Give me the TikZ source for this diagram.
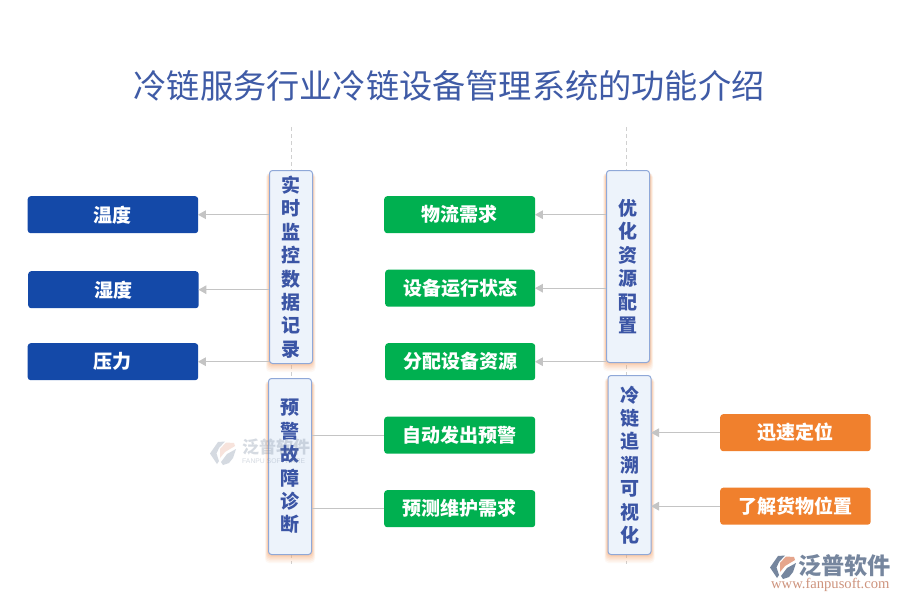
\documentclass[tikz,border=0pt]{standalone}
\usepackage{fontspec}
\setmainfont{Noto Sans CJK SC}
\newfontfamily\wwwfont{Liberation Serif}
\newfontfamily\latinsans{Liberation Sans}
\usetikzlibrary{arrows.meta}
\definecolor{bluebox}{HTML}{1449A8}
\definecolor{greenbox}{HTML}{00B050}
\definecolor{orangebox}{HTML}{F0802D}
\definecolor{colfill}{HTML}{EDF3FB}
\definecolor{coledge}{HTML}{8FA8D8}
\definecolor{coltext}{HTML}{3B55A5}
\definecolor{titletext}{HTML}{3F5BA6}
\definecolor{linegray}{HTML}{C4C4C4}
\definecolor{glow}{HTML}{F9A56A}
\definecolor{logogray}{HTML}{76869E}
\definecolor{logosalmon}{HTML}{E5A58C}
\tikzset{
  x=1pt,y=-1pt,
  leaf/.style={rounded corners=3pt,draw=none,text=white,font=\fontsize{19}{19}\selectfont\bfseries,inner sep=0pt,anchor=north west},
  bluebox/.style={leaf,fill=bluebox,minimum width=170.5pt,minimum height=37pt},
  greenbox/.style={leaf,fill=greenbox,minimum width=151pt,minimum height=37pt},
  orangebox/.style={leaf,fill=orangebox,minimum width=150.5pt,minimum height=37pt},
  column/.style={rounded corners=3pt,draw=coledge,line width=1pt,fill=colfill,text=coltext,
    font=\fontsize{19}{23.4}\selectfont\bfseries,align=center,inner sep=0pt,anchor=north west,text width=43pt,minimum width=43pt},
  arr/.style={draw=linegray,line width=1.4pt,-{Triangle[length=8pt,width=8.5pt]},shorten >=-0.5pt},
  plainln/.style={draw=linegray,line width=1.1pt},
  guide/.style={draw=linegray!80,line width=0.7pt,dash pattern=on 4pt off 3pt},
}
\newcommand{\glowbox}[4]{%
  \foreach \g/\o in {6/0.07,5/0.09,4/0.11,3/0.14,2/0.17,1/0.20}{
    \fill[glow,opacity=\o,rounded corners=4pt] (#1-\g*0.5,#2+3) rectangle (#3+\g*0.5,#4+\g*1.5);
  }}
\newcommand{\logomark}[2]{% x, y
  \begin{scope}[shift={(#1,#2)}]
  \fill[logogray] (0,12.5) -- (8,1) -- (15,0.5) -- (9,7) -- (6.5,12.5) -- (9,20) -- (7,23) -- cycle;
  \fill[logosalmon] (10,8) -- (16,1.5) -- (24,2) -- (25,5) -- (15,11) -- (10,17) -- cycle;
  \fill[logogray] (11,21) -- (17,13) -- (26,8) -- (23,17) -- (19,22) -- (13,24) -- cycle;
  \end{scope}}
\begin{document}
\begin{tikzpicture}
\useasboundingbox (0,0) rectangle (900,600);
\fill[white] (0,0) rectangle (900,600);

\node[text=titletext,font=\fontsize{33.2}{33}\selectfont,inner sep=0pt] (title) at (449,86) {冷链服务行业冷链设备管理系统的功能介绍};

% guide lines
\coordinate (gla) at (291,127);
\coordinate (glb) at (291,564);
\coordinate (gra) at (626.5,127);
\coordinate (grb) at (626.5,564);
\draw[guide] (gla) -- (glb);
\draw[guide] (gra) -- (grb);

% column glows
\glowbox{269}{170}{312.5}{363}
\glowbox{268}{378}{312}{554}
\glowbox{606}{170}{650}{362}
\glowbox{607.5}{375}{651.5}{554}

% columns
\node[column,minimum height=193pt] (c1) at (269,170) {实\\时\\监\\控\\数\\据\\记\\录};
\node[column,minimum height=176pt] (c2) at (268,378) {预\\警\\故\\障\\诊\\断};
\node[column,minimum height=192pt] (c3) at (606,170) {优\\化\\资\\源\\配\\置};
\node[column,minimum height=179pt] (c4) at (607.5,375) {冷\\链\\追\\溯\\可\\视\\化};

% leaves
\node[bluebox] (b1) at (27.5,196) {温度};
\node[bluebox] (b2) at (28,271) {湿度};
\node[bluebox] (b3) at (27.5,343) {压力};
\node[greenbox] (g1) at (384,196) {物流需求};
\node[greenbox,minimum width=150pt] (g2) at (385,269.5) {设备运行状态};
\node[greenbox,minimum width=150pt] (g3) at (385,343) {分配设备资源};
\node[greenbox] (g4) at (384,416.5) {自动发出预警};
\node[greenbox] (g5) at (384,490) {预测维护需求};
\node[orangebox] (o1) at (720,414) {迅速定位};
\node[orangebox] (o2) at (720,487.5) {了解货物位置};

% connectors
\draw[arr] (c1.west |- b1) -- (b1.east);
\draw[arr] (c1.west |- b2) -- (b2.east);
\draw[arr] (c1.west |- b3) -- (b3.east);
\draw[arr] (c3.west |- g1) -- (g1.east);
\draw[arr] (c3.west |- g2) -- (g2.east);
\draw[arr] (c3.west |- g3) -- (g3.east);
\draw[plainln] (c2.east |- g4) -- (g4.west);
\draw[plainln] (c2.east |- g5) -- (g5.west);
\draw[arr] (o1.west) -- (c4.east |- o1);
\draw[arr] (o2.west) -- (c4.east |- o2);

% faint watermark, over the column as in the picture
\begin{scope}[opacity=0.3]
  \logomark{210}{441}
  \node[text=logogray,font=\fontsize{17}{17}\selectfont\bfseries,anchor=west,inner sep=0pt] (wm1) at (242,447) {泛普软件};
  \node[text=logogray,font=\latinsans\fontsize{6.8}{7}\selectfont,anchor=west,inner sep=0pt] (wm2) at (242,461) {FANPU SOFTWARE};
\end{scope}

% logo bottom right
\logomark{770}{555}
\node[text=logogray,font=\fontsize{23.2}{23}\selectfont\bfseries,anchor=west,inner sep=0pt] (lg1) at (798,566) {泛普软件};
\node[text=logosalmon!90!black,font=\wwwfont\fontsize{14.6}{15}\selectfont,anchor=west,inner sep=0pt] (lg2) at (771,585) {www.fanpusoft.com};
\end{tikzpicture}
\end{document}
